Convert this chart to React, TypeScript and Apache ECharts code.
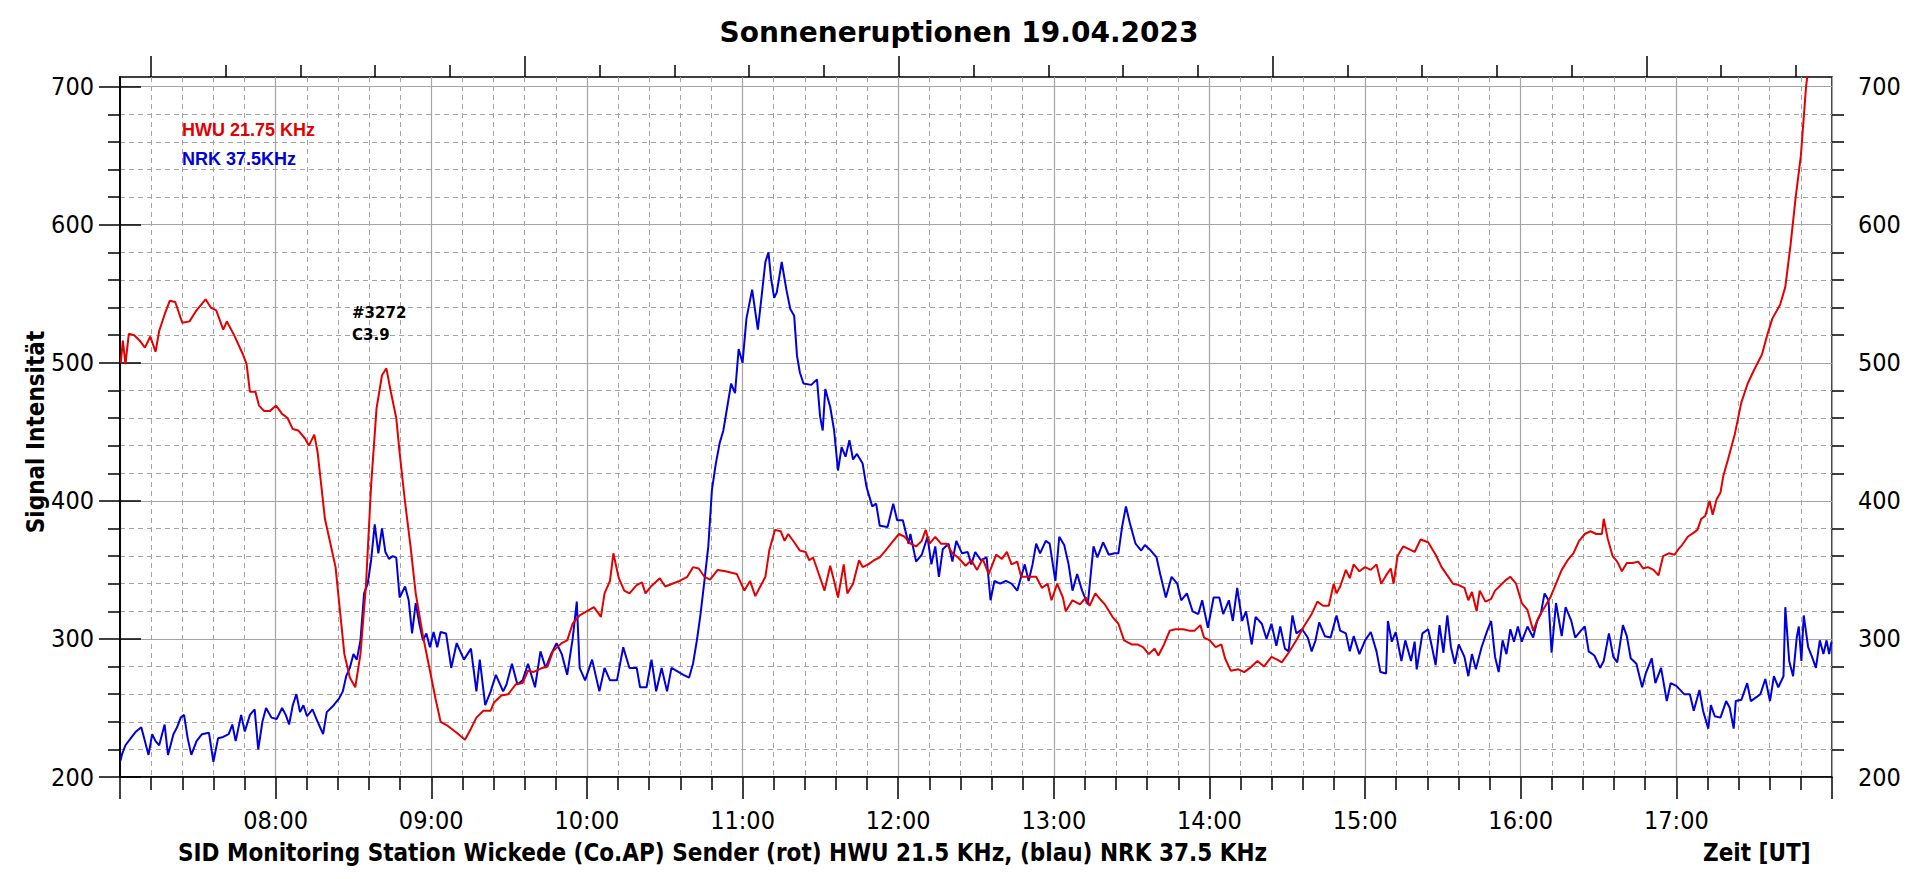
import React, { useEffect, useRef } from "react";
import * as echarts from "echarts";

// time axis: minutes after 07:00 UT
const START_HOUR = 7;
const X_MIN = 0;
const X_MAX = 660;

// HWU 21.75 kHz (red) : [minutes after 07:00, signal]
const hwu: [number, number][] = [
  [0.3, 500], [1.1, 516], [2.1, 499], [3.4, 521], [5.5, 520], [7.6, 516], [9.6, 511], [11.7, 519], [13.7, 508], [15.1, 523],
  [17.2, 535], [19.2, 545], [21.3, 544], [24.0, 529], [26.8, 530], [29.5, 538], [33.0, 546], [35.0, 540], [37.1, 538], [39.8, 524],
  [41.2, 530], [44.0, 520], [47.4, 506], [48.8, 499], [50.1, 479], [52.2, 479], [53.6, 469], [55.6, 465], [57.7, 465], [60.2, 469],
  [62.5, 463], [64.6, 460], [66.6, 452], [68.7, 451], [71.4, 445], [72.8, 440], [74.9, 448], [76.2, 435], [77.6, 411], [79.0, 387],
  [81.0, 370], [83.1, 352], [84.5, 326], [86.5, 289], [88.6, 272], [90.7, 265], [92.7, 289], [94.8, 338], [96.8, 411], [98.9, 467],
  [101.0, 491], [102.7, 496], [104.4, 479], [106.5, 460], [107.8, 435], [109.9, 399], [112.0, 367], [114.0, 333], [116.8, 302], [119.5, 277],
  [121.6, 257], [123.6, 240], [126.4, 237], [129.8, 232], [133.0, 227], [135.3, 235], [137.4, 243], [140.1, 248], [142.9, 248], [144.2, 254],
  [147.0, 259], [149.7, 260], [152.5, 267], [155.2, 268], [157.3, 277], [159.3, 276], [162.8, 279], [164.8, 280], [166.9, 291], [170.3, 297],
  [172.4, 299], [174.5, 311], [177.2, 317], [179.9, 320], [182.7, 323], [185.4, 316], [186.8, 333], [188.9, 342], [190.2, 362], [192.3, 344],
  [194.4, 335], [196.4, 333], [199.2, 339], [201.2, 341], [202.6, 333], [204.7, 338], [208.1, 344], [210.2, 338], [212.9, 340],
  [215.7, 342], [218.7, 345], [220.9, 352], [223.1, 351], [225.3, 345], [227.5, 343], [230.4, 350], [233.4, 349], [237.8, 347], [240.7, 335],
  [242.9, 342], [244.9, 331], [247.4, 340], [248.8, 345], [250.3, 364], [252.5, 379], [254.7, 378], [256.2, 371], [257.6, 376], [259.9, 370],
  [262.1, 364], [264.3, 363], [265.7, 357], [267.2, 359], [269.4, 347], [271.6, 335], [273.8, 353], [275.3, 342], [276.8, 330], [279.0, 354],
  [280.4, 333], [282.6, 340], [284.9, 357], [286.3, 352], [288.5, 354], [290.7, 357], [292.9, 359], [295.1, 364], [298.1, 371], [300.3, 376],
  [302.5, 374], [304.7, 369], [306.9, 367], [309.1, 371], [310.6, 379], [312.1, 369], [314.3, 374], [316.5, 369], [318.7, 369], [320.9, 362],
  [323.1, 359], [326.0, 353], [328.2, 357], [330.4, 350], [332.6, 358], [334.9, 347], [337.8, 361], [340.0, 358], [341.9, 363], [343.7, 354],
  [345.9, 356], [347.4, 345], [350.3, 345], [353.2, 345], [355.4, 337], [357.6, 340], [359.1, 328], [361.3, 340], [363.5, 330], [364.6, 320],
  [367.2, 328], [370.1, 325], [372.4, 330], [373.8, 324], [376.0, 333], [378.2, 328], [379.7, 325], [382.6, 316], [384.9, 311], [387.1, 299],
  [390.0, 296], [392.2, 296], [394.4, 294], [396.6, 289], [398.8, 293], [400.3, 288], [402.5, 296], [404.7, 306], [406.9, 307], [409.9, 307],
  [412.1, 306], [414.3, 306], [416.5, 310], [417.9, 301], [420.1, 299], [422.4, 294], [424.6, 296], [426.0, 286], [428.2, 277], [431.2, 278],
  [433.4, 276], [435.6, 279], [438.5, 284], [441.0, 280], [443.9, 287], [446.1, 285], [447.9, 283], [450.5, 290], [453.5, 299], [456.4, 309],
  [459.4, 318], [461.6, 327], [463.8, 324], [466.0, 324], [467.9, 340], [469.0, 333], [470.4, 338], [472.6, 350], [474.1, 344], [475.6, 354],
  [477.8, 349], [480.0, 352], [482.2, 350], [484.4, 354], [486.2, 340], [488.1, 346], [489.9, 351], [491.0, 340], [492.5, 360], [494.7, 367],
  [496.9, 365], [499.1, 363], [501.4, 372], [504.3, 370], [507.2, 361], [509.5, 352], [511.7, 346], [513.9, 340], [516.1, 339], [518.3, 337],
  [519.8, 328], [521.2, 334], [523.0, 320], [524.2, 335], [526.4, 327], [528.6, 329], [530.1, 335], [532.3, 339], [534.5, 343], [536.0, 345],
  [538.2, 340], [540.4, 326], [542.6, 321], [544.8, 306], [547.0, 316], [549.2, 323], [551.4, 330], [553.6, 340], [555.8, 350], [558.1, 357],
  [560.3, 362], [562.5, 371], [564.7, 376], [566.9, 378], [569.1, 376], [571.3, 376], [572.0, 387], [573.5, 373], [575.4, 360], [577.2, 356],
  [579.0, 349], [580.9, 355], [583.1, 355], [585.3, 356], [587.2, 351], [589.0, 352], [591.2, 350], [593.1, 346], [594.9, 360], [597.1, 362],
  [599.3, 361], [600.8, 365], [602.2, 368], [604.4, 374], [606.7, 377], [608.1, 379], [609.6, 387], [611.1, 389], [612.8, 400], [614.0, 390],
  [615.5, 401], [617.0, 406], [618.1, 418], [619.9, 430], [622.5, 448], [625.0, 471], [627.5, 485], [630.0, 495], [633.0, 506], [635.0, 520],
  [637.0, 532], [640.0, 542], [642.0, 555], [644.0, 585], [646.0, 620], [648.0, 650], [650.0, 700], [651.0, 715],
];

// NRK 37.5 kHz (blue) : [minutes after 07:00, signal]
const nrk: [number, number][] = [
  [0.2, 212], [0.7, 216], [2.1, 223], [4.1, 228], [6.2, 233], [8.2, 236], [9.6, 226], [11.0, 216], [12.4, 231], [13.7, 226],
  [15.1, 223], [17.2, 238], [18.5, 216], [20.6, 231], [22.0, 236], [23.4, 243], [24.7, 245], [26.1, 228], [27.5, 216], [29.5, 226],
  [31.6, 231], [34.3, 232], [36.0, 211], [37.8, 228], [39.8, 229], [41.9, 231], [43.3, 238], [44.6, 226], [46.7, 245], [48.1, 233],
  [50.1, 245], [51.9, 249], [53.3, 220], [54.9, 240], [56.3, 250], [58.4, 243], [60.4, 242], [62.5, 250], [63.9, 245], [65.2, 238],
  [66.6, 252], [68.0, 260], [69.4, 247], [70.7, 252], [72.1, 244], [74.2, 249], [76.2, 240], [78.3, 231], [79.7, 247], [82.4, 252],
  [84.5, 257], [85.9, 262], [87.2, 273], [88.6, 279], [90.0, 289], [91.3, 285], [92.7, 299], [94.1, 333], [95.5, 340], [96.8, 357],
  [98.2, 383], [99.6, 362], [101.0, 380], [102.3, 363], [103.7, 358], [105.1, 360], [106.5, 359], [107.8, 330], [109.9, 338], [111.3, 328],
  [112.6, 304], [114.0, 326], [115.4, 311], [116.8, 299], [118.1, 304], [119.5, 294], [120.9, 305], [122.3, 294], [123.6, 305], [125.7, 304],
  [127.7, 279], [129.8, 297], [132.6, 285], [135.3, 293], [137.4, 262], [138.7, 285], [140.8, 252], [142.9, 262], [144.9, 274], [147.7, 262],
  [149.0, 267], [151.1, 282], [153.2, 267], [155.2, 270], [157.3, 282], [160.0, 265], [162.1, 291], [164.1, 279], [166.2, 289], [168.3, 297],
  [170.3, 289], [172.4, 274], [174.5, 300], [176.1, 327], [177.2, 279], [179.3, 270], [182.0, 285], [184.8, 262], [186.8, 279], [188.9, 270],
  [191.6, 270], [194.0, 294], [196.4, 279], [199.2, 279], [200.5, 265], [203.0, 265], [204.9, 285], [206.7, 262], [208.8, 279], [210.9, 262],
  [212.6, 279], [217.2, 274], [219.4, 272], [220.9, 282], [222.4, 299], [223.8, 318], [225.3, 342], [226.8, 367], [228.2, 408], [229.7, 427],
  [231.2, 442], [232.6, 451], [234.1, 468], [235.6, 485], [237.1, 478], [238.5, 510], [240.0, 500], [241.5, 532], [243.7, 553], [245.9, 524],
  [247.4, 549], [248.8, 573], [250.0, 580], [251.0, 561], [252.2, 547], [253.2, 551], [255.1, 573], [256.9, 553], [258.4, 539], [259.9, 534],
  [261.0, 505], [262.1, 493], [263.5, 485], [266.5, 484], [268.7, 488], [269.9, 461], [270.9, 451], [271.9, 481], [273.8, 468], [275.3, 451],
  [276.8, 422], [278.2, 439], [279.7, 432], [281.2, 444], [282.6, 430], [284.1, 434], [286.3, 427], [287.8, 410], [290.0, 396], [291.5, 398],
  [292.9, 382], [295.9, 381], [298.1, 398], [299.6, 386], [301.8, 386], [304.0, 369], [304.7, 376], [306.9, 356], [309.1, 361], [311.3, 374],
  [312.8, 354], [314.3, 367], [315.7, 345], [317.2, 365], [319.4, 369], [320.9, 356], [322.4, 371], [324.6, 362], [326.8, 363], [328.2, 354],
  [329.7, 363], [331.9, 357], [334.1, 359], [335.6, 328], [337.1, 342], [339.3, 340], [341.5, 342], [343.7, 340], [345.9, 335], [347.4, 345],
  [348.8, 354], [350.3, 342], [351.8, 354], [353.2, 369], [354.7, 362], [356.9, 371], [358.4, 369], [360.6, 342], [362.1, 374], [364.0, 368],
  [365.7, 354], [367.2, 335], [369.0, 347], [370.9, 335], [373.1, 325], [375.3, 367], [376.8, 359], [379.0, 370], [381.2, 361], [383.4, 362],
  [384.9, 362], [386.3, 381], [387.8, 396], [389.3, 384], [391.5, 369], [393.7, 364], [395.1, 368], [397.4, 364], [399.6, 359], [401.0, 347],
  [403.2, 330], [405.4, 345], [407.6, 340], [409.1, 328], [411.3, 333], [413.5, 320], [415.7, 318], [417.2, 328], [419.4, 308], [421.6, 330],
  [423.8, 330], [425.3, 318], [427.5, 328], [429.0, 313], [430.7, 337], [432.6, 313], [434.1, 320], [436.3, 296], [437.8, 316], [440.2, 311],
  [442.0, 300], [443.9, 311], [445.8, 295], [447.3, 309], [449.1, 293], [450.5, 291], [452.0, 317], [453.5, 304], [455.7, 307], [457.9, 301],
  [459.4, 291], [460.9, 299], [462.3, 312], [464.5, 302], [466.7, 301], [469.0, 317], [470.4, 306], [472.6, 304], [474.1, 291], [475.6, 302],
  [477.8, 289], [480.0, 299], [482.2, 305], [484.4, 291], [485.9, 276], [488.1, 275], [488.8, 313], [490.3, 298], [491.8, 305], [494.0, 284],
  [495.5, 299], [497.7, 284], [499.1, 298], [499.9, 278], [502.1, 304], [504.3, 307], [505.8, 294], [507.2, 281], [508.7, 310], [510.2, 290],
  [511.7, 317], [513.1, 294], [514.6, 282], [516.1, 296], [518.3, 287], [519.8, 273], [521.2, 289], [522.7, 278], [524.9, 294], [527.1, 306],
  [528.6, 313], [530.1, 287], [531.5, 276], [533.0, 299], [534.5, 289], [536.0, 307], [537.4, 298], [538.9, 309], [540.4, 298], [542.6, 309],
  [544.8, 301], [546.3, 313], [547.7, 318], [549.2, 333], [550.7, 328], [551.9, 290], [553.6, 326], [555.8, 302], [557.3, 323], [559.5, 313],
  [561.0, 301], [563.2, 306], [564.7, 309], [566.2, 291], [568.4, 288], [570.6, 279], [572.0, 284], [574.0, 304], [575.7, 287], [577.2, 283],
  [579.4, 310], [580.9, 302], [582.4, 286], [584.6, 282], [586.8, 265], [588.2, 275], [590.5, 286], [591.9, 268], [594.1, 279], [596.3, 255],
  [597.8, 268], [600.0, 266], [603.0, 260], [605.2, 260], [606.7, 248], [608.9, 263], [610.3, 248], [612.3, 235], [613.3, 252], [614.8, 244],
  [617.0, 243], [619.2, 255], [620.6, 250], [622.1, 235], [622.9, 255], [625.1, 256], [627.3, 268], [628.7, 255], [631.0, 258], [632.4, 260],
  [634.3, 271], [636.1, 255], [637.6, 273], [639.3, 265], [641.3, 273], [642.0, 323], [643.5, 284], [645.0, 273], [646.4, 301], [647.2, 309],
  [648.2, 284], [649.1, 317], [650.8, 294], [652.3, 287], [653.8, 279], [655.3, 299], [656.7, 289], [657.9, 299], [658.9, 289], [659.8, 298],
];

const yMajorTicks = [200, 300, 400, 500, 600, 700];
const yMinorTicks = [220, 240, 260, 280, 320, 340, 360, 380, 420, 440, 460, 480, 520, 540, 560, 580, 620, 640, 660, 680];
const topLongTicks = [11.9, 156.0, 300.2, 444.4, 588.5];
const topShortTicks = [40.7, 69.6, 98.4, 127.2, 184.9, 213.7, 242.5, 271.4, 329.0, 357.9, 386.7, 415.5, 473.2, 502.0, 530.8, 559.7, 617.3, 646.2];

const TITLE = "Sonneneruptionen 19.04.2023";
const Y_NAME = "Signal Intensität";
const X_NAME = "Zeit [UT]";
const FOOTER = "SID Monitoring Station Wickede (Co.AP) Sender (rot) HWU 21.5 KHz, (blau) NRK 37.5 KHz";
const LEGEND_HWU = "HWU 21.75 KHz";
const LEGEND_NRK = "NRK 37.5KHz";
const NOTE_1 = "#3272";
const NOTE_2 = "C3.9";

const RED = "#e30000";
const BLUE = "#0000dc";
const GRID_GREY = "#a4a4a4";
const TICK_FONT = "'DejaVu Sans Condensed', Roboto, sans-serif";
const BOLD_FONT = "'DejaVu Sans Condensed', 'DejaVu Sans', sans-serif";

function fmtTime(v: number): string {
  const total = Math.round(v);
  const h = START_HOUR + Math.floor(total / 60);
  const m = total % 60;
  return `${String(h).padStart(2, "0")}:${String(m).padStart(2, "0")}`;
}

const tickLine = { color: "#000", width: 1.5 };

function yAxisPair(position: "left" | "right", withGrid: boolean) {
  return [
    {
      type: "value",
      position,
      min: 200,
      max: 707,
      interval: 100,
      axisLine: { show: true, lineStyle: tickLine },
      axisTick: { show: true, inside: false, length: 21, customValues: yMajorTicks, lineStyle: tickLine },
      axisLabel: {
        show: true,
        customValues: yMajorTicks,
        margin: 26,
        fontSize: 25,
        color: "#000",
        fontFamily: TICK_FONT,
      },
      splitLine: withGrid
        ? { show: true, lineStyle: { color: GRID_GREY, width: 1.2, type: "solid" } }
        : { show: false },
    },
    {
      type: "value",
      position,
      min: 200,
      max: 707,
      interval: 20,
      axisLine: { show: false },
      axisTick: { show: true, inside: false, length: 12, customValues: yMinorTicks, lineStyle: tickLine },
      axisLabel: { show: false },
      splitLine: withGrid
        ? { show: true, lineStyle: { color: GRID_GREY, width: 1, type: [5, 4] } }
        : { show: false },
    },
  ];
}

export default function App() {
  const ref = useRef<HTMLDivElement>(null);

  useEffect(() => {
    if (!ref.current) return;
    const chart = echarts.init(ref.current, undefined, { renderer: "svg" });

    const text = (
      t: string,
      x: number,
      y: number,
      font: string,
      fill: string,
      align: string = "left",
      rotation = 0
    ) => ({
      type: "text",
      x,
      y,
      rotation,
      z: 100,
      style: {
        text: t,
        x: 0,
        y: 0,
        font,
        fill,
        textAlign: align,
        align,
        textVerticalAlign: "middle",
        verticalAlign: "middle",
      },
    });

    const option: any = {
      animation: false,
      backgroundColor: "#ffffff",
      grid: {
        left: 120,
        top: 77,
        width: 1712,
        height: 700,
        show: true,
        borderColor: "#000",
        borderWidth: 1.5,
        backgroundColor: "transparent",
      },
      xAxis: [
        {
          type: "value",
          position: "bottom",
          min: X_MIN,
          max: X_MAX,
          interval: 60,
          axisLine: { show: true, lineStyle: tickLine },
          axisTick: { show: true, inside: false, length: 22, lineStyle: tickLine },
          minorTick: { show: true, splitNumber: 5, length: 13, lineStyle: tickLine },
          axisLabel: {
            show: true,
            margin: 31,
            formatter: fmtTime,
            showMinLabel: false,
            showMaxLabel: false,
            fontSize: 25,
            color: "#000",
            fontFamily: TICK_FONT,
          },
          splitLine: { show: true, lineStyle: { color: GRID_GREY, width: 1.2, type: "solid" } },
          minorSplitLine: { show: true, lineStyle: { color: GRID_GREY, width: 1, type: [5, 4] } },
        },
        {
          type: "value",
          position: "top",
          min: X_MIN,
          max: X_MAX,
          axisLine: { show: false },
          axisTick: { show: true, inside: false, length: 21, customValues: topLongTicks, lineStyle: tickLine },
          axisLabel: { show: false },
          splitLine: { show: false },
        },
        {
          type: "value",
          position: "top",
          min: X_MIN,
          max: X_MAX,
          axisLine: { show: false },
          axisTick: { show: true, inside: false, length: 12, customValues: topShortTicks, lineStyle: tickLine },
          axisLabel: { show: false },
          splitLine: { show: false },
        },
      ],
      yAxis: [...yAxisPair("left", true), ...yAxisPair("right", false)],
      series: [
        {
          name: "NRK 37.5KHz",
          type: "line",
          xAxisIndex: 0,
          yAxisIndex: 0,
          data: nrk,
          showSymbol: false,
          symbol: "none",
          clip: true,
          lineStyle: { color: BLUE, width: 2 },
          itemStyle: { color: BLUE },
          z: 3,
        },
        {
          name: "HWU 21.75 KHz",
          type: "line",
          xAxisIndex: 0,
          yAxisIndex: 0,
          data: hwu,
          showSymbol: false,
          symbol: "none",
          clip: true,
          lineStyle: { color: RED, width: 2 },
          itemStyle: { color: RED },
          z: 4,
        },
      ],
      graphic: [
        text(TITLE, 959, 32, `bold 28px 'DejaVu Sans', sans-serif`, "#000", "center"),
        text(Y_NAME, 36, 432, `bold 24px ${BOLD_FONT}`, "#000", "center", Math.PI / 2),
        text(FOOTER, 178, 853, `bold 24px ${BOLD_FONT}`, "#000", "left"),
        text(X_NAME, 1703, 853, `bold 24px ${BOLD_FONT}`, "#000", "left"),
        text(LEGEND_HWU, 182, 130, `bold 18px 'Liberation Sans', Arial, sans-serif`, RED, "left"),
        text(LEGEND_NRK, 182, 159, `bold 18px 'Liberation Sans', Arial, sans-serif`, BLUE, "left"),
        text(NOTE_1, 352, 313, `bold 15px 'DejaVu Sans', sans-serif`, "#000", "left"),
        text(NOTE_2, 352, 335, `bold 15px 'DejaVu Sans', sans-serif`, "#000", "left"),
      ],
    };

    chart.setOption(option);
    return () => {
      chart.dispose();
    };
  }, []);

  return (
    <div
      ref={ref}
      style={{ position: "absolute", left: 0, top: 0, width: 1920, height: 879, background: "#fff" }}
    />
  );
}
